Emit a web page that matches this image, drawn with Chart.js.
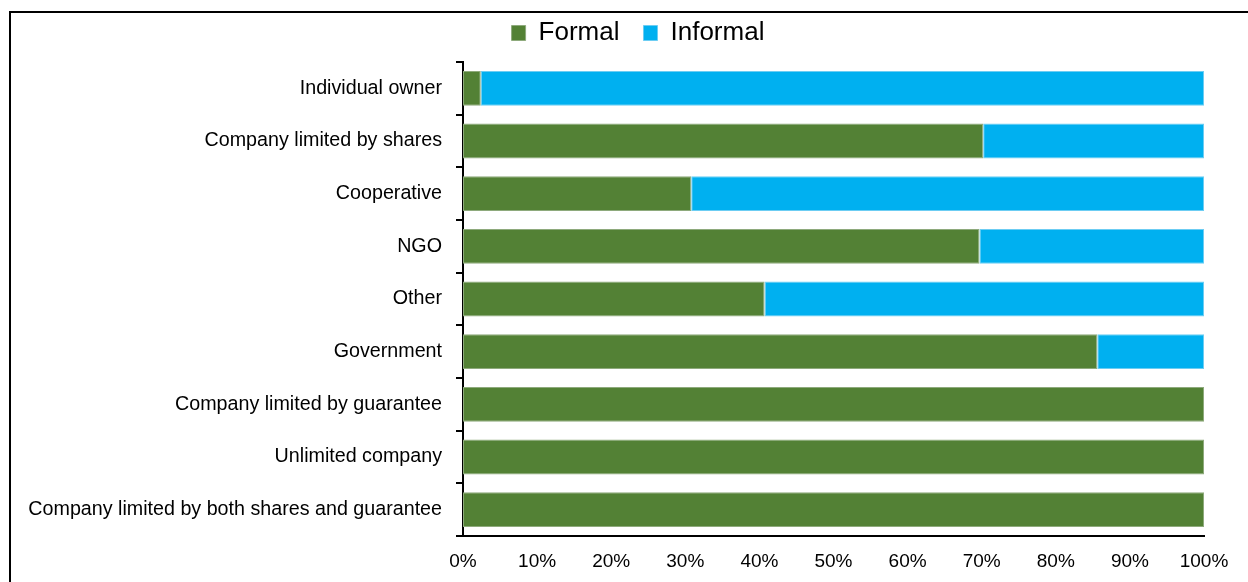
<!DOCTYPE html>
<html>
<head>
<meta charset="utf-8">
<script src="https://cdn.jsdelivr.net/npm/chart.js@4.4.1/dist/chart.umd.min.js"></script>
<style>
  html, body { margin: 0; padding: 0; background: #fff; overflow: hidden; }
  #frame { position: absolute; left: 9px; top: 11px; width: 1300px; height: 700px; border: 2px solid #000; box-sizing: border-box; }
  #wrap { position: absolute; left: 0; top: 0; width: 1248px; height: 582px; }
</style>
</head>
<body>
<div id="frame"></div>
<div id="wrap"><canvas id="c" width="1248" height="582"></canvas></div>
<script>
const categories = [
  "Individual owner",
  "Company limited by shares",
  "Cooperative",
  "NGO",
  "Other",
  "Government",
  "Company limited by guarantee",
  "Unlimited company",
  "Company limited by both shares and guarantee"
];
const formalShare   = [2.4, 70.2, 30.8, 69.7, 40.7, 85.6, 100, 100, 100];
const informalShare = [97.6, 29.8, 69.2, 30.3, 59.3, 14.4, 0, 0, 0];
const xTickValues = [0, 10, 20, 30, 40, 50, 60, 70, 80, 90, 100];

const FONT = '"Liberation Sans", Arial, sans-serif';

// Legend sits in a fixed-height band and is nudged right/up inside it
const legendPlacement = {
  id: 'legendPlacement',
  beforeInit(chart) {
    const legend = chart.legend;
    if (!legend) return;
    const fit = legend.fit;
    legend.fit = function () {
      fit.call(this);
      this.height = 62;
    };
  },
  afterLayout(chart) {
    const legend = chart.legend;
    if (!legend) return;
    const dx = 36, dy = -4;
    legend.left += dx; legend.right += dx;
    legend.top += dy; legend.bottom += dy;
  }
};

new Chart(document.getElementById('c'), {
  type: 'bar',
  data: {
    labels: categories,
    datasets: [
      {
        label: 'Formal',
        data: formalShare,
        backgroundColor: '#538135',
        borderColor: '#8eaa7c',
        borderWidth: 1,
        borderSkipped: false,
        categoryPercentage: 1,
        barPercentage: 0.66
      },
      {
        label: 'Informal',
        data: informalShare,
        backgroundColor: '#00B0F0',
        borderColor: '#6ccdf3',
        borderWidth: 1,
        borderSkipped: false,
        categoryPercentage: 1,
        barPercentage: 0.66
      }
    ]
  },
  plugins: [legendPlacement],
  options: {
    indexAxis: 'y',
    responsive: false,
    animation: false,
    layout: { padding: { left: 0, right: 44, top: 0, bottom: 0 } },
    plugins: {
      tooltip: { enabled: false },
      legend: {
        position: 'top',
        labels: {
          font: { family: FONT, size: 26 },
          color: '#000',
          boxWidth: 14,
          boxHeight: 15,
          padding: 24,
          useBorderRadius: false
        }
      }
    },
    scales: {
      x: {
        stacked: true,
        min: 0,
        max: 100,
        afterBuildTicks(scale) {
          scale.ticks = xTickValues.map(v => ({ value: v }));
        },
        afterFit(scale) { scale.height = 46; },
        grid: { display: false, drawTicks: false },
        border: { display: true, color: '#000', width: 2 },
        ticks: {
          padding: 14,
          color: '#000',
          font: { family: FONT, size: 19 },
          callback: v => v + '%',
          maxRotation: 0
        }
      },
      y: {
        stacked: true,
        afterFit(scale) { scale.width = 463; },
        grid: {
          display: true,
          offset: true,
          drawOnChartArea: false,
          drawTicks: true,
          tickLength: 7,
          color: '#000',
          lineWidth: 2
        },
        border: { display: true, color: '#000', width: 2 },
        ticks: {
          padding: 14,
          color: '#000',
          font: { family: FONT, size: 19.7 },
          autoSkip: false
        }
      }
    }
  }
});
</script>
</body>
</html>
